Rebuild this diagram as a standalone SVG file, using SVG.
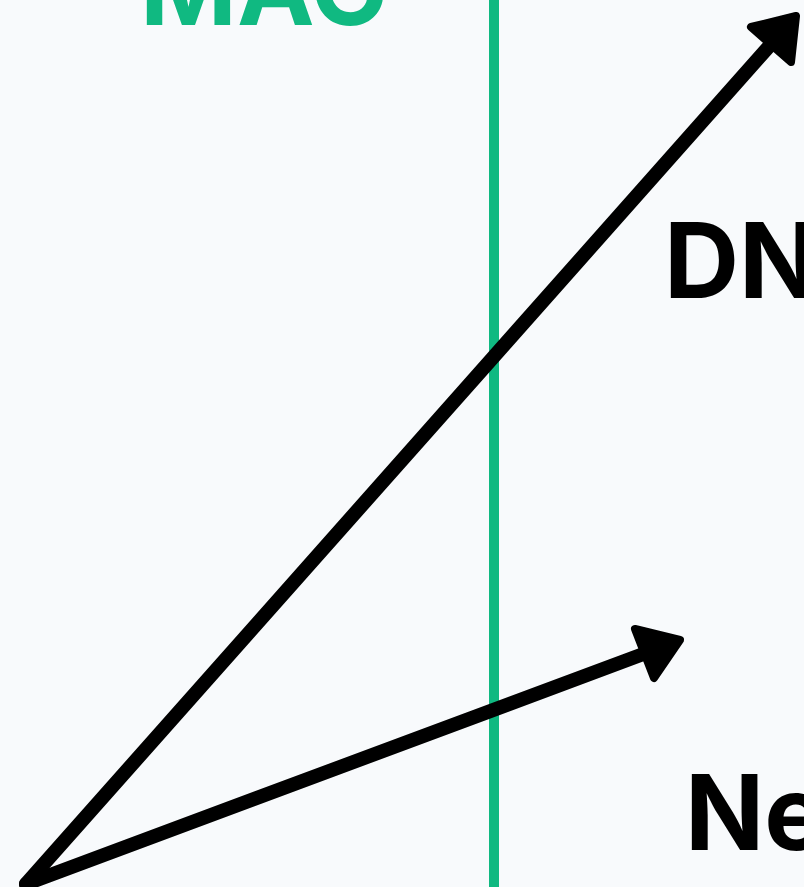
<svg xmlns="http://www.w3.org/2000/svg" width="804" height="887" viewBox="0 0 804 887">
<style>
.lbl{font-family:Inter,"Liberation Sans",sans-serif;font-weight:700;font-size:104px}
.conn{stroke:#000;stroke-width:14;fill:none;stroke-linecap:round}
.head{fill:#000;stroke:#000;stroke-width:8;stroke-linejoin:round}
</style>
<rect width="804" height="887" fill="#f8fafc"/>
<g id="mac-divider">
<line x1="494" y1="0" x2="494" y2="887" stroke="#10b981" stroke-width="10"/>
<text class="lbl" x="140" y="25" fill="#10b981">MAC</text>
</g>
<g id="node-dn"><text class="lbl" x="664" y="298" fill="#000">DN</text></g>
<g id="node-ne"><text class="lbl" x="685" y="850" fill="#000">Ne</text></g>
<g id="connectors">
<line class="conn" x1="26" y1="884" x2="772" y2="43"/>
<polygon class="head" points="796,16 791,62 751,27"/>
<line class="conn" x1="26" y1="884" x2="646" y2="653"/>
<polygon class="head" points="680,640 654,678 635,629"/>
</g>
</svg>
